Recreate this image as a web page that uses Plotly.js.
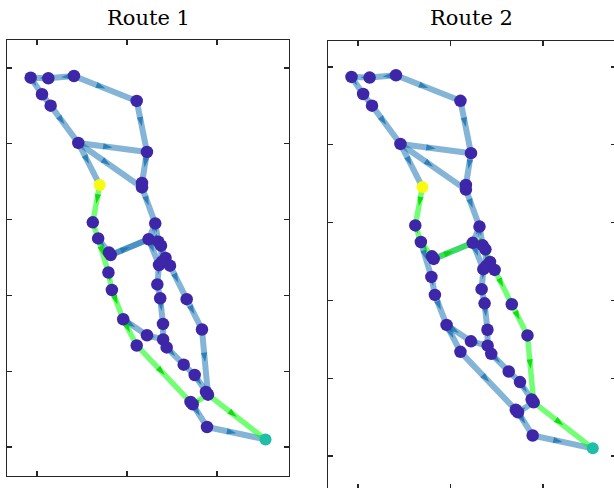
<!DOCTYPE html>
<html><head><meta charset="utf-8">
<script src="https://cdn.plot.ly/plotly-3.0.1.min.js"></script>
<style>html,body{margin:0;padding:0;overflow:hidden;background:#fff}#chart{width:620px;height:492px}</style>
</head><body><div id="chart"></div>
<script>
// ---- data ----
const nodeX = [0.930,1.126,1.411,2.108,1.056,1.152,1.459,2.222,2.167,2.167,
               1.697,1.620,1.680,2.314,2.241,2.348,2.378,1.819,2.428,2.356,
               2.386,2.478,1.794,2.337,1.832,2.369,2.663,1.958,2.400,2.833,
               2.222,2.402,2.108,2.441,2.630,2.752,2.900,2.730,2.889,3.539,
               1.800,2.878,2.706];
const nodeY = [5.872,5.864,5.894,5.565,5.653,5.503,5.011,4.892,4.483,4.424,
               4.456,3.964,3.751,3.949,3.740,3.708,3.656,3.533,3.493,3.401,
               3.441,3.392,3.302,3.144,3.071,2.962,2.950,2.685,2.623,2.550,
               2.474,2.418,2.339,2.313,2.086,1.950,1.690,1.563,1.264,1.099,
               3.566,1.726,1.594];
const edgeFrom = [2,1,2,0,4,5,3,6,6,7,6,10,11,12,12,17,14,9,13,13,14,14,15,16,18,21,19,16,20,23,25,28,31,26,29,33,34,35,22,24,27,30,27,32,37,36,37,38];
const edgeTo   = [1,0,3,4,5,6,7,7,9,8,10,11,12,22,17,14,17,13,15,14,19,15,16,18,21,26,23,20,19,25,28,31,33,29,36,34,35,36,24,27,30,31,32,37,36,39,38,39];
const route1 = [10,11,12,22,24,27,32,37,36,39];
const route2 = [10,11,12,17,14,15,16,18,21,26,29,36,39];
const startNode = 10, endNode = 39;
const xTicks = [1,2,3];
const yTicks = [1,2,3,4,5,6];
const titles = ["Route 1","Route 2"];

// ---- styling / layout ----
const W = 620, H = 492;
const panels = [
  {px:[7,289], py:[40,476], xr:[0.667,3.80], yr:[0.617,6.369], route:route1, xa:'x', ya:'y'},
  {px:[328,616], py:[41,489], xr:[0.676,3.79], yr:[0.576,6.334], route:route2, xa:'x2', ya:'y2'}
];
const BLUE = 'rgba(31,119,180,0.55)', GREEN = 'rgba(0,255,0,0.55)';
const BLUE_ARR = 'rgba(31,119,180,0.85)', GREEN_ARR = 'rgba(0,215,0,0.85)';
const NODE = '#3e26a8', START = '#f9fb0e', END = '#1fbea9';

const traces = [];
panels.forEach(p => {
  const sx = (p.px[1]-p.px[0])/(p.xr[1]-p.xr[0]);
  const sy = (p.py[1]-p.py[0])/(p.yr[1]-p.yr[0]);
  const rset = new Set();
  for (let i=0;i<p.route.length-1;i++) rset.add(p.route[i]+'-'+p.route[i+1]);
  const mk = (a,b,color,w) => ({type:'scatter',mode:'lines',x:[nodeX[a],nodeX[b]],y:[nodeY[a],nodeY[b]],
      line:{color:color,width:w},xaxis:p.xa,yaxis:p.ya,hoverinfo:'skip'});
  const arr = {blue:{x:[],y:[],a:[]}, green:{x:[],y:[],a:[]}};
  const seen = new Set();
  edgeFrom.forEach((a,i) => {
    const b = edgeTo[i];
    const isR = rset.has(a+'-'+b);
    if (!isR) traces.push(mk(a,b,BLUE,6));
    if (!seen.has(b+'-'+a)) {
      const g = isR ? arr.green : arr.blue;
      g.x.push((nodeX[a]+nodeX[b])/2); g.y.push((nodeY[a]+nodeY[b])/2);
      g.a.push(Math.atan2((nodeX[b]-nodeX[a])*sx,(nodeY[b]-nodeY[a])*sy)*180/Math.PI);
    }
    seen.add(a+'-'+b);
  });
  for (let i=0;i<p.route.length-1;i++) traces.push(mk(p.route[i],p.route[i+1],GREEN,5.5));
  [['blue',BLUE_ARR],['green',GREEN_ARR]].forEach(([k,c]) => {
    traces.push({type:'scatter',mode:'markers',x:arr[k].x,y:arr[k].y,xaxis:p.xa,yaxis:p.ya,hoverinfo:'skip',
      marker:{symbol:'arrow',size:10,angle:arr[k].a,color:c,line:{width:0}}});
  });
  const ids = nodeX.map((_,i)=>i).filter(i=>i!==startNode && i!==endNode);
  traces.push({type:'scatter',mode:'markers',x:ids.map(i=>nodeX[i]),y:ids.map(i=>nodeY[i]),xaxis:p.xa,yaxis:p.ya,
    hoverinfo:'skip',marker:{size:12.5,color:NODE,line:{width:0}}});
  traces.push({type:'scatter',mode:'markers',x:[nodeX[startNode]],y:[nodeY[startNode]],xaxis:p.xa,yaxis:p.ya,
    hoverinfo:'skip',marker:{size:12,color:START,line:{width:0}}});
  traces.push({type:'scatter',mode:'markers',x:[nodeX[endNode]],y:[nodeY[endNode]],xaxis:p.xa,yaxis:p.ya,
    hoverinfo:'skip',marker:{size:12,color:END,line:{width:0}}});
});

const axBase = {showline:true,mirror:'ticks',linecolor:'#262626',linewidth:1.3,ticks:'inside',ticklen:5,
  tickwidth:1.3,tickcolor:'#262626',showticklabels:false,showgrid:false,zeroline:false,fixedrange:true};
const layout = {width:W,height:H,margin:{l:0,r:0,t:0,b:0},showlegend:false,
  paper_bgcolor:'#fff',plot_bgcolor:'#fff',annotations:[]};
panels.forEach((p,k) => {
  const s = k===0 ? '' : '2';
  layout['xaxis'+s] = Object.assign({},axBase,{domain:[p.px[0]/W,p.px[1]/W],range:p.xr,tickvals:xTicks,anchor:'y'+s});
  layout['yaxis'+s] = Object.assign({},axBase,{domain:[1-p.py[1]/H,1-p.py[0]/H],range:p.yr,tickvals:yTicks,anchor:'x'+s});
  layout.annotations.push({text:titles[k],xref:'paper',yref:'paper',x:(p.px[0]+p.px[1])/2/W,y:1-18/H,
    xanchor:'center',yanchor:'middle',showarrow:false,font:{family:'DejaVu Serif',size:21,color:'#000'}});
});
Plotly.newPlot('chart',traces,layout,{staticPlot:true,displayModeBar:false});
</script></body></html>
